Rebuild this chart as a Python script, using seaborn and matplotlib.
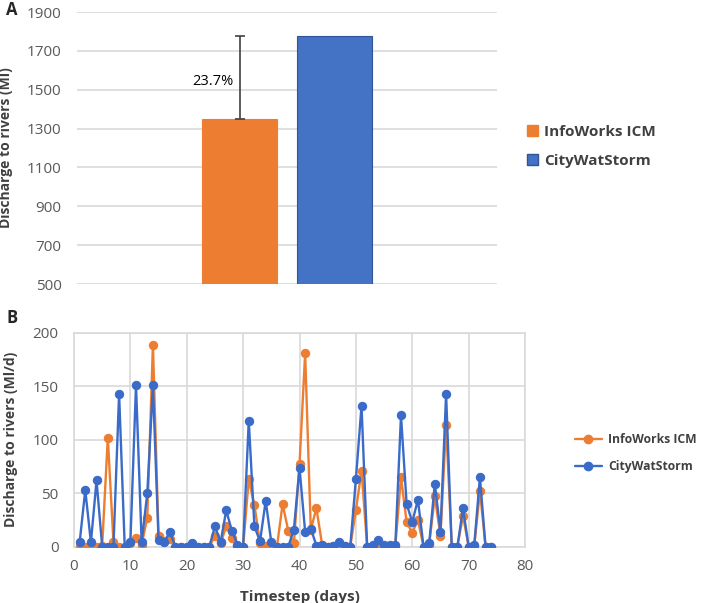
import matplotlib
matplotlib.use('Agg')
import matplotlib.pyplot as plt
import seaborn as sns
import pandas as pd
from matplotlib.patches import Patch
from matplotlib.lines import Line2D

# Panel A: total discharge per model
models = ['InfoWorks ICM', 'CityWatStorm']
total_discharge = [1350, 1775]
diff_label = '23.7%'

# Panel B: daily discharge, day 1..74
days = list(range(1, 75))
infoworks = [1, 0, 1, 0, 1, 102, 4, 0, 0, 3,
             8, 2, 27, 189, 10, 5, 7, 0, 0, 0,
             2, 0, 0, 0, 10, 3, 19, 8, 1, 0,
             63, 39, 3, 1, 0, 0, 40, 15, 3, 77,
             181, 16, 36, 2, 0, 1, 2, 1, 0, 34,
             71, 0, 1, 3, 1, 1, 1, 65, 23, 13,
             25, 0, 2, 47, 10, 114, 0, 0, 29, 0,
             1, 52, 0, 0]
citywatstorm = [4, 53, 4, 62, 0, 0, 0, 143, 0, 4,
                151, 4, 50, 151, 6, 4, 14, 0, 0, 0,
                3, 0, 0, 0, 19, 4, 34, 15, 2, 0,
                118, 19, 5, 43, 4, 0, 0, 0, 16, 74,
                14, 17, 1, 2, 0, 1, 4, 1, 0, 63,
                132, 0, 2, 6, 2, 2, 2, 123, 40, 23,
                44, 0, 3, 59, 14, 143, 0, 0, 36, 0,
                2, 65, 0, 0]

orange = '#ED7D31'
blue = '#4472C4'
line_blue = '#3A6BC8'
grid_c = '#d9d9d9'
tick_c = '#595959'
text_c = '#404040'

sns.set_theme(style='white')
plt.rcParams['font.family'] = ['Open Sans', 'DejaVu Sans']

fig = plt.figure(figsize=(7.02, 6.03), dpi=100)
axA = fig.add_axes([0.1097, 0.529, 0.598, 0.451])
axB = fig.add_axes([0.1054, 0.0934, 0.6425, 0.3544])

# ---- Panel A
sns.barplot(x=models, y=total_discharge, hue=models, palette=[orange, blue],
            saturation=1, width=0.79, legend=False, ax=axA, zorder=2)
for bar, ec in zip(axA.patches, [orange, '#2F5597']):
    bar.set_edgecolor(ec)
    bar.set_linewidth(0.8)
axA.errorbar(0, total_discharge[0], yerr=[[0], [total_discharge[1] - total_discharge[0]]],
             fmt='none', ecolor='#404040', elinewidth=1.2, capsize=3.5, capthick=1.2, zorder=3)
axA.text(-0.07, 1540, diff_label, ha='right', va='center', fontsize=10.5, color='black')
axA.set_xlim(-1.716, 2.705)
axA.set_ylim(500, 1900)
axA.set_yticks(range(500, 1901, 200))
axA.set_xticks([])
axA.yaxis.grid(True, color=grid_c, lw=1.2, zorder=0)
for s in axA.spines.values():
    s.set_visible(False)
axA.tick_params(axis='y', length=0, pad=11, labelsize=11, labelcolor=tick_c)
axA.set_ylabel('Discharge to rivers (Ml)', fontsize=10, fontweight='bold', color=text_c)
axA.yaxis.set_label_coords(-0.152, 0.5)
axA.set_xlabel('')

handlesA = [Patch(facecolor=orange, edgecolor=orange), Patch(facecolor=blue, edgecolor='#2F5597')]
fig.legend(handlesA, models, loc='center left', bbox_to_anchor=(0.731, 0.757), frameon=False,
           handlelength=0.75, handleheight=0.75, handletextpad=0.4, labelspacing=1.0,
           prop={'weight': 'bold', 'size': 11}, labelcolor=text_c)

# ---- Panel B
sns.lineplot(x=days, y=infoworks, color=orange, marker='o', markersize=6,
             markeredgecolor=orange, linewidth=1.7, ax=axB, zorder=3)
sns.lineplot(x=days, y=citywatstorm, color=line_blue, marker='o', markersize=6,
             markeredgecolor=line_blue, linewidth=1.7, ax=axB, zorder=4)
axB.set_xlim(0, 80)
axB.set_ylim(0, 200)
axB.set_xticks(range(0, 81, 10))
axB.set_yticks(range(0, 201, 50))
axB.grid(True, color=grid_c, lw=1.2, zorder=0)
for s in axB.spines.values():
    s.set_color(grid_c)
    s.set_linewidth(1.2)
axB.tick_params(length=0, labelsize=11, labelcolor=tick_c)
axB.tick_params(axis='y', pad=11)
axB.tick_params(axis='x', pad=9)
axB.set_ylabel('Discharge to rivers (Ml/d)', fontsize=10, fontweight='bold', color=text_c)
axB.yaxis.set_label_coords(-0.124, 0.5)
axB.set_xlabel('Timestep (days)', fontsize=11, fontweight='bold', color=text_c)
axB.xaxis.set_label_coords(0.5, -0.203)

handlesB = [Line2D([], [], color=orange, marker='o', markersize=6, lw=1.7),
            Line2D([], [], color=line_blue, marker='o', markersize=6, lw=1.7)]
fig.legend(handlesB, models, loc='center left', bbox_to_anchor=(0.803, 0.249), frameon=False,
           handlelength=2.3, handletextpad=0.45, labelspacing=1.15,
           prop={'weight': 'bold', 'size': 8.7}, labelcolor=text_c)

fig.text(0.017, 0.983, 'A', fontsize=12, fontweight='bold', ha='center', va='center')
fig.text(0.017, 0.473, 'B', fontsize=12, fontweight='bold', ha='center', va='center')

fig.savefig('out.png', dpi=100)
